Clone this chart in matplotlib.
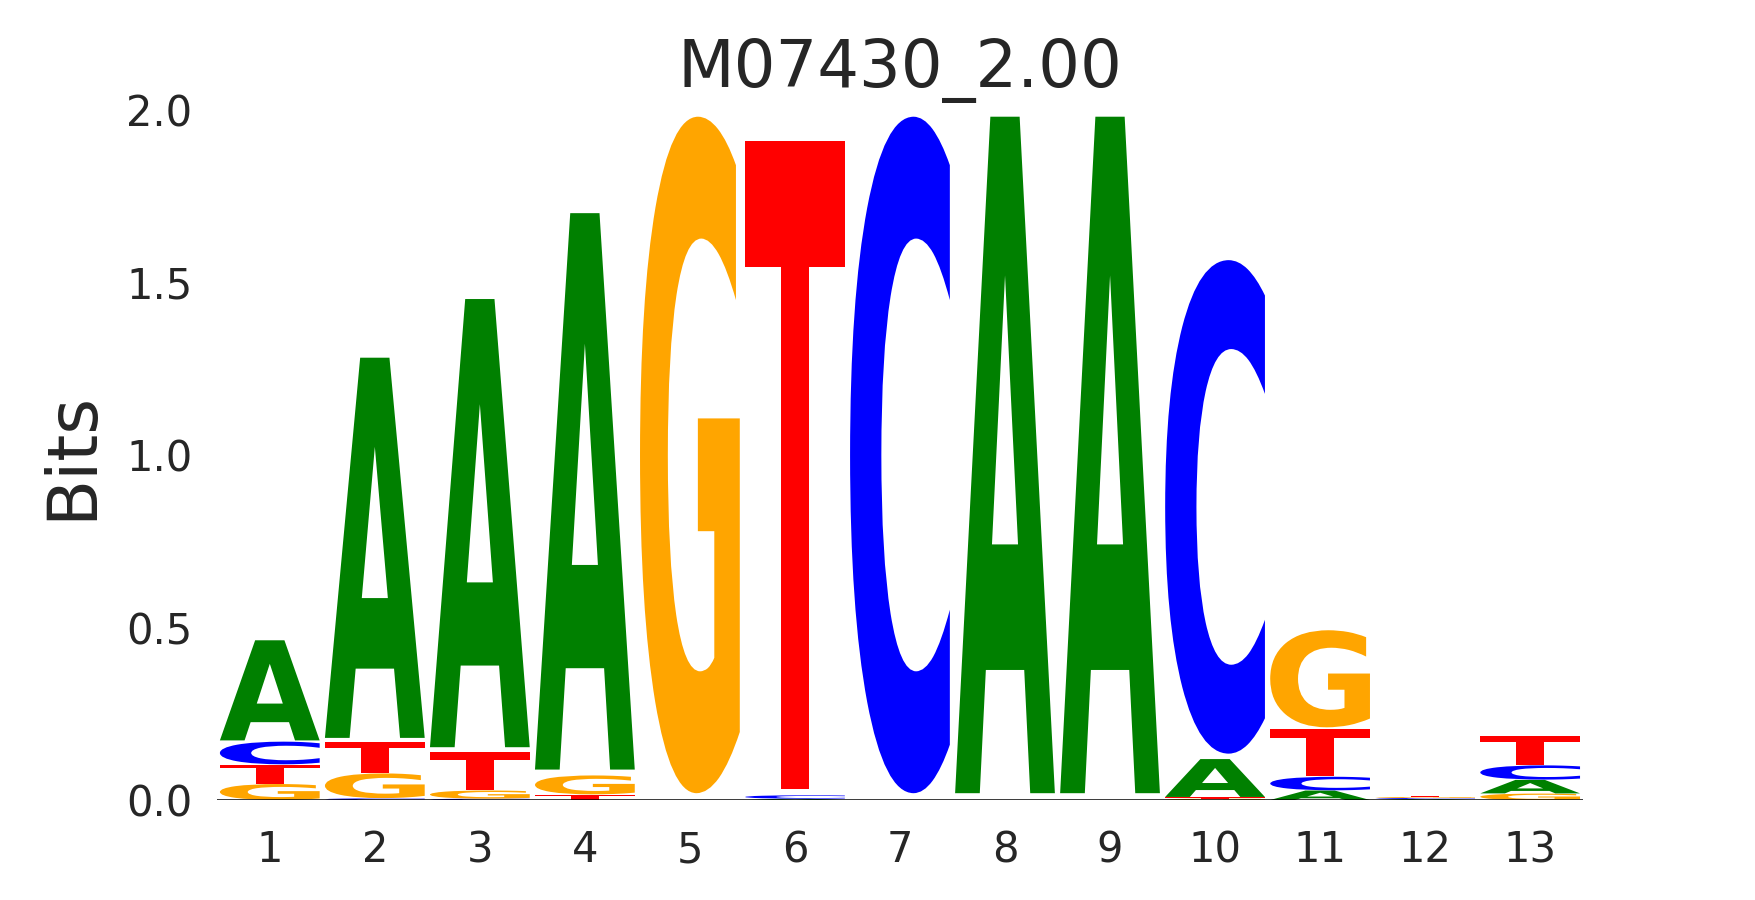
import numpy as np
import matplotlib
matplotlib.use('Agg')
import matplotlib.pyplot as plt
from matplotlib.textpath import TextPath
from matplotlib.font_manager import FontProperties
from matplotlib.patches import PathPatch
from matplotlib.transforms import Affine2D

# motif data (information content in bits, per position)
positions = list(range(1, 14))
bits_A = [0.296, 1.124, 1.325, 1.645, 0.0, 0.004, 0.0, 2.0, 2.0, 0.112, 0.028, 0.003, 0.040]
bits_C = [0.067, 0.005, 0.004, 0.0, 0.0, 0.010, 2.0, 0.0, 0.0, 1.459, 0.040, 0.003, 0.042]
bits_G = [0.047, 0.073, 0.024, 0.056, 2.0, 0.0, 0.0, 0.0, 0.0, 0.004, 0.287, 0.003, 0.019]
bits_T = [0.056, 0.091, 0.112, 0.016, 0.0, 1.915, 0.0, 0.0, 0.0, 0.004, 0.140, 0.003, 0.086]

title = "M07430_2.00"
y_ticks = [0.0, 0.5, 1.0, 1.5, 2.0]

colors = {'A': '#008000', 'C': '#0000ff', 'G': '#ffa500', 'T': '#ff0000'}
letter_width = 0.95
vpad = 0.01  # blank space above and below each glyph, fraction of its height
font = FontProperties(family='DejaVu Sans', weight='bold')
text_color = '#262626'


def draw_letter(ax, letter, x, floor, height):
    """Stretch the glyph so it fills the box [x-w/2, x+w/2] x [floor, floor+height]"""
    if height <= 0:
        return
    path = TextPath((0, 0), letter, size=1, prop=font)
    ext = path.get_extents()
    h = height * (1 - 2 * vpad)
    tr = (Affine2D()
          .translate(-ext.x0, -ext.y0)
          .scale(letter_width / ext.width, h / ext.height)
          .translate(x - letter_width / 2, floor + height * vpad))
    ax.add_patch(PathPatch(tr.transform_path(path), facecolor=colors[letter],
                           edgecolor='none'))


fig = plt.figure(figsize=(11.7, 6), dpi=150)
ax = fig.add_axes([0.1238, 0.111, 0.778, 0.767])

table = {'A': bits_A, 'C': bits_C, 'G': bits_G, 'T': bits_T}
for i, pos in enumerate(positions):
    # smallest letters at the bottom of the stack
    stack = sorted(table.keys(), key=lambda k: table[k][i])
    floor = 0.0
    for letter in stack:
        h = table[letter][i]
        draw_letter(ax, letter, pos, floor, h)
        floor += h

ax.axhline(0, color='black', lw=1.2, zorder=5)

ax.set_xlim(0.5, 13.5)
ax.set_ylim(0, 2.0)
ax.set_xticks(positions)
ax.set_xticklabels([str(p) for p in positions])
ax.set_yticks(y_ticks)
ax.set_yticklabels([f"{t:.1f}" for t in y_ticks])
ax.tick_params(axis='both', length=0, labelsize=20, labelcolor=text_color)
ax.tick_params(axis='x', pad=14)
ax.tick_params(axis='y', pad=12)
for s in ax.spines.values():
    s.set_visible(False)

ax.set_ylabel("Bits", fontsize=33, color=text_color, labelpad=10)
ax.set_title(title, fontsize=31.5, color=text_color, pad=11)

plt.savefig('out.png', dpi=150)
plt.close()
